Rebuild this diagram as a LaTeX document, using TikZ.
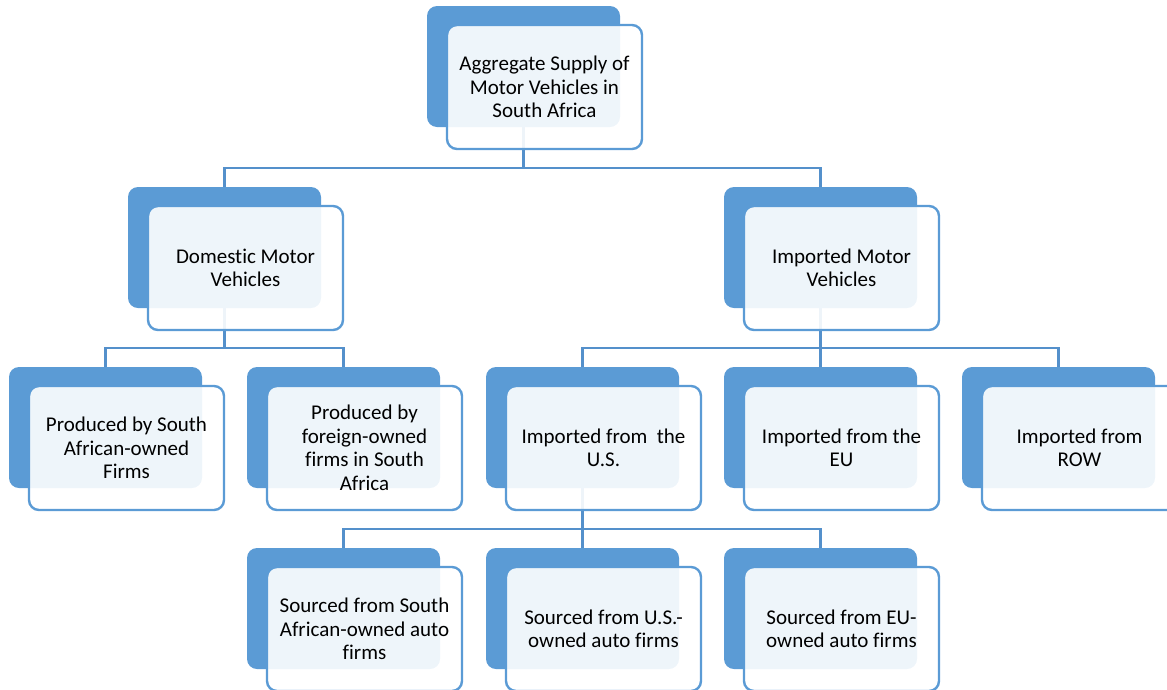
\documentclass[tikz,border=0pt]{standalone}
\usepackage{fontspec}
\setmainfont{Carlito}[RawFeature={-liga}]
\pgfdeclarelayer{bg}
\pgfsetlayers{bg,main}
\definecolor{boxblue}{RGB}{91,155,213}
\definecolor{lineblue}{RGB}{84,144,203}
\tikzset{
  darkbox/.style={draw=none, fill=boxblue, rounded corners=10pt, minimum width=193pt, minimum height=121pt, inner sep=0pt},
  frontbox/.style={draw=boxblue, line width=2.4pt, fill=white, fill opacity=0.9, text opacity=1, rounded corners=10pt, minimum width=195pt, minimum height=124pt, inner sep=0pt, align=center, font=\fontsize{21}{23.5}\selectfont},
  conn/.style={draw=lineblue, line width=2.2pt}
}
\newcommand{\unitbox}[4]{%
  \node[darkbox] (#1-d) at (#2+96.5, #3+60.5) {};
  \node[frontbox] (#1-f) at (#2+117.5, #3+81) {#4};
}
\begin{document}
\begin{tikzpicture}[x=1pt,y=-1pt]
\useasboundingbox (0,0) rectangle (1167,689);
\clip (0,0) rectangle (1167,689);
\unitbox{top}{427}{6}{Aggregate Supply of\\Motor Vehicles in\\South Africa}
\unitbox{dom}{128}{187}{Domestic Motor\\Vehicles}
\unitbox{imp}{724}{187}{Imported Motor\\Vehicles}
\unitbox{psa}{9}{367}{Produced by South\\African-owned\\Firms}
\unitbox{pfo}{247}{367}{Produced by\\foreign-owned\\firms in South\\Africa}
\unitbox{ius}{486}{367}{Imported from\ \ the\\U.S.}
\unitbox{ieu}{724}{367}{Imported from the\\EU}
\unitbox{row}{962}{367}{Imported from\\ROW}
\unitbox{ssa}{247}{548}{Sourced from South\\African-owned auto\\firms}
\unitbox{sus}{486}{548}{Sourced from U.S.-\\owned auto firms}
\unitbox{seu}{724}{548}{Sourced from EU-\\owned auto firms}
\begin{pgfonlayer}{bg}
\foreach \c in {dom,imp}{\draw[conn] (\c-d.north) -- ++(0,-19) -| (top-d.south);}
\foreach \c in {psa,pfo}{\draw[conn] (\c-d.north) -- ++(0,-19) -| (dom-d.south);}
\foreach \c in {ius,ieu,row}{\draw[conn] (\c-d.north) -- ++(0,-19) -| (imp-d.south);}
\foreach \c in {ssa,sus,seu}{\draw[conn] (\c-d.north) -- ++(0,-19) -| (ius-d.south);}
\end{pgfonlayer}
\end{tikzpicture}
\end{document}
